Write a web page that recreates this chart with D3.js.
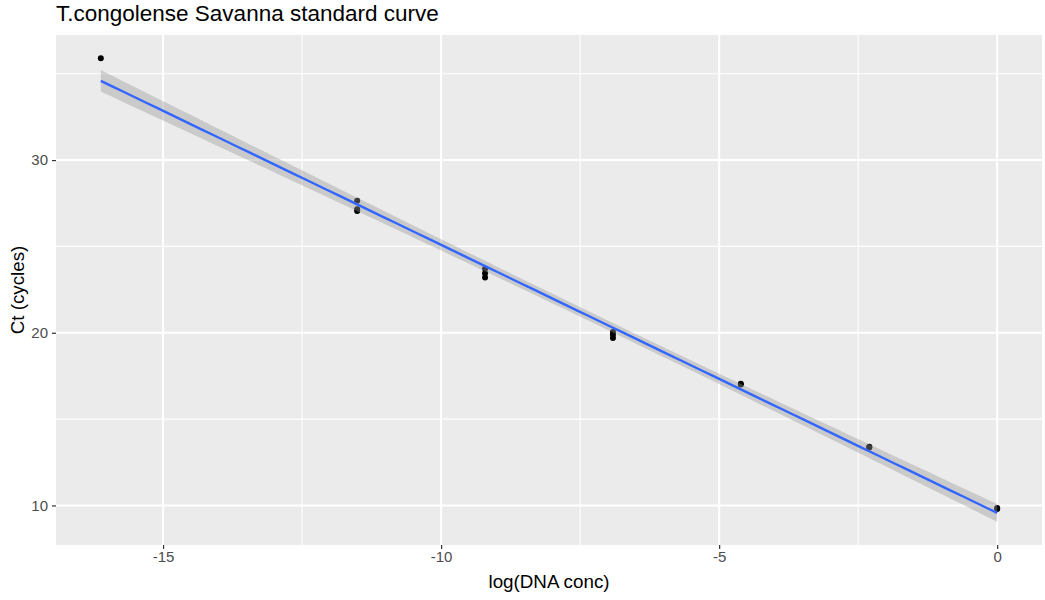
<!DOCTYPE html>
<html>
<head>
<meta charset="utf-8">
<script src="https://cdn.jsdelivr.net/npm/d3@7"></script>
<style>
  body { margin: 0; background: #fff; }
  text { font-family: "Liberation Sans", Arial, sans-serif; }
</style>
</head>
<body>
<div id="chart"></div>
<script>
// data: log of dilution vs Ct, replicates listed one by one
const logConc = [-16.12, -11.51, -11.51, -11.51, -9.21, -9.21, -9.21,
                 -6.91, -6.91, -6.91, -4.61, -4.61, -2.30, -2.30, 0, 0];
const ct = [35.9, 27.65, 27.15, 27.05, 23.7, 23.45, 23.2,
            20.05, 19.9, 19.7, 17.05, 17.0, 13.4, 13.35, 9.85, 9.8];
const xTicks = [-15, -10, -5, 0];
const xMinor = [-12.5, -7.5, -2.5];
const yTicks = [10, 20, 30];
const yMinor = [15, 25, 35];
const titleText = "T.congolense Savanna standard curve";
const xLabel = "log(DNA conc)";
const yLabel = "Ct (cycles)";

const svgWidth = 1045, svgHeight = 600;
const margin = {top: 35, right: 3, bottom: 55, left: 56};
const width = svgWidth - margin.left - margin.right;
const height = svgHeight - margin.top - margin.bottom;

const points = logConc.map((x, i) => ({x: x, y: ct[i]}));

// linear fit with 95% band, like geom_smooth(method = "lm")
const n = points.length;
const mx = d3.mean(points, d => d.x), my = d3.mean(points, d => d.y);
const sxx = d3.sum(points, d => (d.x - mx) ** 2);
const sxy = d3.sum(points, d => (d.x - mx) * (d.y - my));
const slope = sxy / sxx, icpt = my - slope * mx;
const rss = d3.sum(points, d => (d.y - (icpt + slope * d.x)) ** 2);
const s = Math.sqrt(rss / (n - 2));
const tCrit = 2.145; // qt(0.975, 14)

const xExt = d3.extent(logConc);
const fit = d3.range(80).map(i => {
  const x = xExt[0] + (xExt[1] - xExt[0]) * i / 79;
  const yh = icpt + slope * x;
  const se = s * Math.sqrt(1 / n + (x - mx) ** 2 / sxx);
  return {x: x, y: yh, lo: yh - tCrit * se, hi: yh + tCrit * se};
});

const xPad = (xExt[1] - xExt[0]) * 0.05;
const yLo = Math.min(d3.min(ct), d3.min(fit, d => d.lo));
const yHi = Math.max(d3.max(ct), d3.max(fit, d => d.hi));
const yPad = (yHi - yLo) * 0.05;

const x = d3.scaleLinear().domain([xExt[0] - xPad, xExt[1] + xPad]).range([0, width]);
const y = d3.scaleLinear().domain([yLo - yPad, yHi + yPad]).range([height, 0]);

const svg = d3.select("#chart").append("svg")
  .attr("width", svgWidth)
  .attr("height", svgHeight);

const g = svg.append("g")
  .attr("transform", `translate(${margin.left},${margin.top})`);

// panel
g.append("rect").attr("width", width).attr("height", height).attr("fill", "#EBEBEB");

// grid
g.selectAll(".yminor").data(yMinor).join("line")
  .attr("x1", 0).attr("x2", width)
  .attr("y1", d => y(d)).attr("y2", d => y(d))
  .attr("stroke", "#fff").attr("stroke-width", 1.1);
g.selectAll(".xminor").data(xMinor).join("line")
  .attr("y1", 0).attr("y2", height)
  .attr("x1", d => x(d)).attr("x2", d => x(d))
  .attr("stroke", "#fff").attr("stroke-width", 1.1);
g.selectAll(".ymajor").data(yTicks).join("line")
  .attr("x1", 0).attr("x2", width)
  .attr("y1", d => y(d)).attr("y2", d => y(d))
  .attr("stroke", "#fff").attr("stroke-width", 2);
g.selectAll(".xmajor").data(xTicks).join("line")
  .attr("y1", 0).attr("y2", height)
  .attr("x1", d => x(d)).attr("x2", d => x(d))
  .attr("stroke", "#fff").attr("stroke-width", 2);

// points first, then smoother on top
g.selectAll(".pt").data(points).join("circle")
  .attr("cx", d => x(d.x)).attr("cy", d => y(d.y))
  .attr("r", 3).attr("fill", "#000");

g.append("path").datum(fit)
  .attr("fill", "#999999").attr("fill-opacity", 0.4)
  .attr("d", d3.area().x(d => x(d.x)).y0(d => y(d.lo)).y1(d => y(d.hi)));

g.append("path").datum(fit)
  .attr("fill", "none").attr("stroke", "#3366FF").attr("stroke-width", 2.4)
  .attr("d", d3.line().x(d => x(d.x)).y(d => y(d.y)));

// axes
const xAxis = g.append("g").attr("transform", `translate(0,${height})`)
  .call(d3.axisBottom(x).tickValues(xTicks).tickSize(4).tickPadding(2).tickFormat(d3.format("d")));
const yAxis = g.append("g")
  .call(d3.axisLeft(y).tickValues(yTicks).tickSize(4).tickPadding(4).tickFormat(d3.format("d")));
[xAxis, yAxis].forEach(a => {
  a.select(".domain").remove();
  a.selectAll(".tick line").attr("stroke", "#333333").attr("stroke-width", 1.2);
  a.selectAll(".tick text").attr("fill", "#4D4D4D")
    .style("font-size", "15px").style("font-family", "Liberation Sans, Arial, sans-serif");
});
xAxis.selectAll(".tick text").text(d => d < 0 ? "-" + Math.abs(d) : d);

// titles
svg.append("text").attr("x", margin.left).attr("y", 21)
  .style("font-size", "22.5px").attr("fill", "#000").text(titleText);
svg.append("text").attr("x", margin.left + width / 2).attr("y", 588)
  .attr("text-anchor", "middle").style("font-size", "18.8px").text(xLabel);
svg.append("text")
  .attr("transform", `translate(24,${margin.top + height / 2}) rotate(-90)`)
  .attr("text-anchor", "middle").style("font-size", "18.8px").text(yLabel);
</script>
</body>
</html>
